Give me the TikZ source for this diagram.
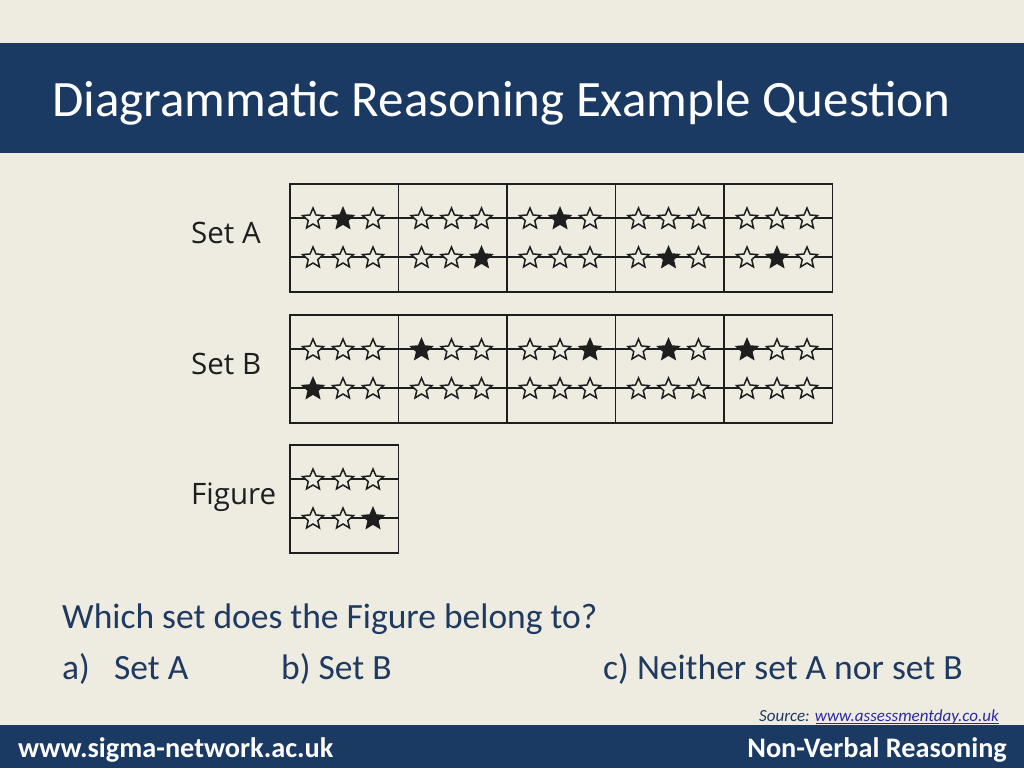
\documentclass[tikz,border=0pt]{standalone}
\usepackage{fontspec}
\setmainfont{Carlito}
\newfontfamily\labelfont{Open Sans}
\usetikzlibrary{shapes.geometric}
\definecolor{bg}{HTML}{EEEBE1}
\definecolor{navy}{HTML}{1B3A63}
\definecolor{qtext}{HTML}{1F3A60}
\definecolor{linkblue}{HTML}{2A2AA6}
\definecolor{ink}{HTML}{1E1E1E}
\tikzset{
  cellbox/.style={draw=ink, line width=1.6pt, minimum width=108.5pt, minimum height=108pt, inner sep=0pt, anchor=north west},
  rowline/.style={draw=ink, line width=1.4pt},
  staro/.style={star, star points=5, star point ratio=2.2, minimum size=22pt, inner sep=0pt, outer sep=0pt, draw=ink, line width=1.5pt, fill=bg},
  starf/.style={staro, fill=ink},
  setlabel/.style={font=\labelfont\fontsize{29.5}{32}\selectfont, text=ink, anchor=base west, inner sep=0pt},
  qstyle/.style={font=\fontsize{35.5}{40}\selectfont, text=qtext, anchor=base west, inner sep=0pt},
}
\newcommand{\drawset}[3]{%
  \foreach \t/\b [count=\i] in {#3} {
    \pgfmathsetmacro{\cx}{289+(\i-1)*108.5}
    \node[cellbox] (#1\i) at (\cx,#2) {};
    \foreach \k in {1,2,3} {
      \pgfmathsetmacro{\sx}{\cx+24+(\k-1)*30}
      \ifnum\k=\t \node[starf] (#1\i t\k) at (\sx,#2+36) {};
      \else \node[staro] (#1\i t\k) at (\sx,#2+36) {}; \fi
      \ifnum\k=\b \node[starf] (#1\i b\k) at (\sx,#2+75) {};
      \else \node[staro] (#1\i b\k) at (\sx,#2+75) {}; \fi
    }
  }
}
\newcommand{\drawlines}[3]{%
  \coordinate (#1L1) at (289,#2+35);
  \coordinate (#1R1) at (#3,#2+35);
  \coordinate (#1L2) at (289,#2+74);
  \coordinate (#1R2) at (#3,#2+74);
  \draw[rowline] (#1L1) -- (#1R1);
  \draw[rowline] (#1L2) -- (#1R2);
}
\begin{document}
\begin{tikzpicture}[x=1pt,y=-1pt]
\useasboundingbox (0,0) rectangle (1024,768);
\fill[bg] (0,0) rectangle (1024,768);
% top band
\fill[navy] (0,43) rectangle (1024,153);
\node[anchor=base west, inner sep=0pt, text=white, font=\fontsize{51}{56}\selectfont] (title) at (52,116) {Diagrammatic Reasoning Example Question};
% bottom band
\fill[navy] (0,725) rectangle (1024,768);
\node[anchor=base west, inner sep=0pt, text=white, font=\bfseries\fontsize{28.3}{32}\selectfont] (web) at (18,757) {www.sigma-network.ac.uk};
\node[anchor=base east, inner sep=0pt, text=white, font=\bfseries\fontsize{28.3}{32}\selectfont] (topic) at (1007,757) {Non-Verbal Reasoning};
\node[anchor=base east, inner sep=0pt, font=\itshape\fontsize{17}{20}\selectfont] (source) at (999,721) {\textcolor{qtext}{Source: }\textcolor{linkblue}{www.assessmentday.co.uk}};
\draw[linkblue, line width=1pt] ([xshift=-0.5pt,yshift=-2.5pt]source.base east) -- ++(-183,0);

\drawlines{A}{183}{831.5}
\drawlines{B}{314}{831.5}
\drawlines{F}{444}{397.5}
\drawset{A}{183}{2/0,0/3,2/0,0/2,0/2}
\drawset{B}{314}{0/1,1/0,3/0,2/0,1/0}
\drawset{F}{444}{0/3}

\node[setlabel] (labA) at (191,243) {Set A};
\node[setlabel] (labB) at (191,374) {Set B};
\node[setlabel] (labF) at (191,504) {Figure};

% question
\node[qstyle] (q) at (62,628) {Which set does the Figure belong to?};
\node[qstyle] (qa) at (62,679) {a)};
\node[qstyle] (qa2) at (114,679) {Set A};
\node[qstyle] (qb) at (281,679) {b) Set B};
\node[qstyle] (qc) at (603,679) {c) Neither set A nor set B};
\end{tikzpicture}
\end{document}
